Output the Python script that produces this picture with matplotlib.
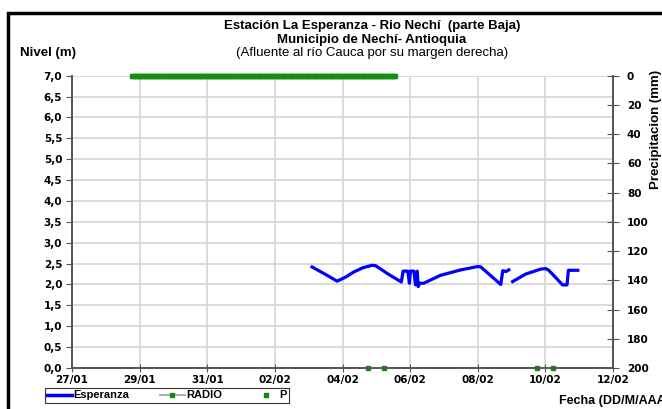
import pandas as pd
import numpy as np
import matplotlib
matplotlib.use('Agg')
import matplotlib.pyplot as plt
import matplotlib.dates as mdates
from matplotlib.ticker import MultipleLocator, FuncFormatter
from matplotlib.lines import Line2D
from matplotlib.patches import Rectangle

plt.rcParams['font.family'] = ['Liberation Sans', 'DejaVu Sans']

# nivel Esperanza (m)
esp_fecha = ['2012-02-03 02:24', '2012-02-03 12:00', '2012-02-03 20:10', '2012-02-04 02:24',
             '2012-02-04 08:00', '2012-02-04 14:24', '2012-02-04 21:00', '2012-02-04 23:30',
             '2012-02-05 08:24', '2012-02-05 17:45', '2012-02-05 19:00', '2012-02-05 22:20',
             '2012-02-05 23:30', '2012-02-06 00:15', '2012-02-06 02:40', '2012-02-06 03:50',
             '2012-02-06 05:00', '2012-02-06 05:45', '2012-02-06 06:40', '2012-02-06 09:36',
             '2012-02-06 21:36', '2012-02-07 12:00', '2012-02-08 00:00', '2012-02-08 02:10',
             '2012-02-08 09:36', '2012-02-08 16:20', '2012-02-08 17:45', '2012-02-08 20:00',
             '2012-02-08 22:05', '2012-02-08 23:00', '2012-02-09 00:45', '2012-02-09 10:05',
             '2012-02-09 20:53', '2012-02-10 00:15', '2012-02-10 02:24', '2012-02-10 12:15',
             '2012-02-10 15:22', '2012-02-10 16:20', '2012-02-10 23:00']
esp_nivel = [2.42, 2.24, 2.08, 2.18,
             2.30, 2.40, 2.46, 2.45,
             2.25, 2.06, 2.32, 2.32,
             2.03, 2.32, 2.32, 1.99,
             2.32, 1.95, 2.03, 2.03,
             2.22, 2.35, 2.43, 2.42,
             2.20, 2.00, 2.33, 2.31,
             2.35, np.nan, 2.07, 2.25,
             2.37, 2.38, 2.34, 1.99,
             1.99, 2.34, 2.34]

# RADIO (m)
radio_fecha = ['2012-02-04 18:15', '2012-02-05 05:45', '2012-02-07 00:00',
               '2012-02-09 18:00', '2012-02-10 05:45']
radio_nivel = [0.0, 0.0, np.nan, 0.0, 0.0]

# precipitacion (mm), registro horario
p_fecha = pd.date_range('2012-01-28 18:30', '2012-02-05 13:40', freq='h')
p_valor = [0.0] * len(p_fecha)

titulo1 = 'Estación La Esperanza - Rio Nechí  (parte Baja)'
titulo2 = 'Municipio de Nechí- Antioquia'
subtitulo = '(Afluente al río Cauca por su margen derecha)'

fig = plt.figure(figsize=(6.62, 4.09), dpi=100)
ax = fig.add_axes([72/662, 1-368/409, (613-72)/662, (368-75.7)/409])
ax2 = ax.twinx()

ax.plot(pd.to_datetime(esp_fecha), esp_nivel, color='#0000FF', lw=2.3, zorder=3)
ax.plot(pd.to_datetime(radio_fecha), radio_nivel, color='#B0B0B0', lw=1.5,
        marker='s', ms=2.5, mfc='#108A10', mec='#108A10', zorder=4, clip_on=False)
ax2.plot(p_fecha, p_valor, ls='none', marker='s', ms=3.5, color='#129012',
         mec='#129012', clip_on=False)

ax.set_xlim(pd.Timestamp('2012-01-27'), pd.Timestamp('2012-02-12'))
ax.set_ylim(0, 7)
ax2.set_ylim(200, 0)

ax.xaxis.set_major_locator(mdates.DayLocator(interval=2))
ax.xaxis.set_major_formatter(mdates.DateFormatter('%d/%m'))
ax.yaxis.set_major_locator(MultipleLocator(0.5))
ax.yaxis.set_major_formatter(FuncFormatter(lambda v, p: ('%.1f' % v).replace('.', ',')))
ax2.yaxis.set_major_locator(MultipleLocator(20))

ax.grid(True, color='#D4D4D4', lw=1.2)
ax.set_axisbelow(True)
for a in (ax, ax2):
    a.spines['top'].set_visible(False)
    for s in ('left', 'bottom', 'right'):
        a.spines[s].set_color('#555555')
        a.spines[s].set_linewidth(1.3)

ax.tick_params(axis='y', direction='out', length=4, color='#555555', pad=3)
ax.tick_params(axis='x', direction='inout', length=6, color='#555555', pad=2)
ax2.tick_params(axis='y', direction='inout', length=8, color='#555555', pad=6)
for lab in ax.get_xticklabels() + ax.get_yticklabels() + ax2.get_yticklabels():
    lab.set_family('DejaVu Sans')
    lab.set_fontweight('bold')
    lab.set_fontsize(7.5)

fig.text(372/662, 1-26.5/409, titulo1, ha='center', va='center', fontsize=9.5,
         fontweight='bold')
fig.text(372/662, 1-40/409, titulo2, ha='center', va='center', fontsize=9.5,
         fontweight='bold')
fig.text(372/662, 1-53/409, subtitulo, ha='center', va='center', fontsize=9.5)
fig.text(20/662, 1-53/409, 'Nivel (m)', ha='left', va='center', fontsize=9.5, fontweight='bold')
fig.text(559/662, 1-401/409, 'Fecha (DD/M/AAAA)', ha='left', va='center', fontsize=9,
         fontweight='bold')
fig.text(656/662, 1-70/409, 'Precipitacion (mm)', ha='center', va='top', fontsize=9.5,
         fontweight='bold', rotation=90)

handles = [Line2D([], [], color='#0000FF', lw=2.5),
           Line2D([], [], color='#B0B0B0', lw=1.5, marker='s', ms=2.5,
                  mfc='#108A10', mec='#108A10'),
           Line2D([], [], ls='none', marker='s', ms=2.5, color='#108A10')]
leg = fig.legend(handles, ['Esperanza', 'RADIO', 'P'], ncol=3, loc='center',
                 bbox_to_anchor=(167/662, 1-395.5/409), frameon=True,
                 fancybox=False, edgecolor='black', handlelength=2.2, handletextpad=0.15,
                 columnspacing=2.8, borderpad=0.2, borderaxespad=0,
                 prop={'weight': 'bold', 'size': 8})
leg.get_frame().set_linewidth(0.8)

fig.patches.append(Rectangle((8/662, -0.1), 1.2, 1.1 - 13/409, transform=fig.transFigure,
                             fill=False, edgecolor='black', lw=2.5))

fig.savefig('out.png', dpi=100)
